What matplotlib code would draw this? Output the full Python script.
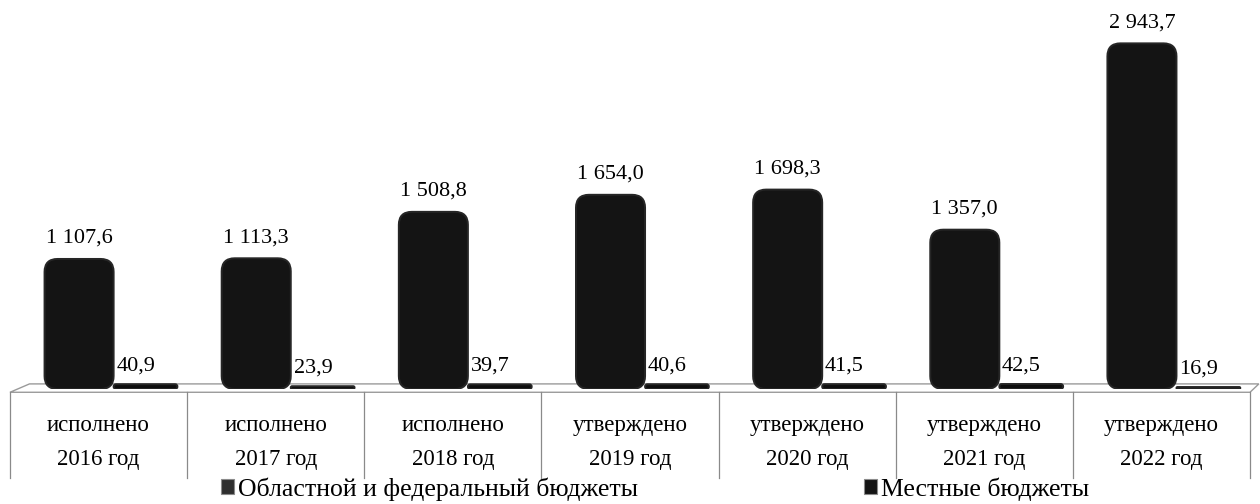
import numpy as np
import matplotlib.pyplot as plt
from matplotlib.patches import FancyBboxPatch, Patch, Polygon

plt.rcParams['font.family'] = ['Liberation Serif', 'DejaVu Serif']

# data (млн руб.)
status = ['исполнено', 'исполнено', 'исполнено', 'утверждено',
          'утверждено', 'утверждено', 'утверждено']
years = ['2016 год', '2017 год', '2018 год', '2019 год',
         '2020 год', '2021 год', '2022 год']
regional = [1107.6, 1113.3, 1508.8, 1654.0, 1698.3, 1357.0, 2943.7]
local = [40.9, 23.9, 39.7, 40.6, 41.5, 42.5, 16.9]
series_names = ['Областной и федеральный бюджеты', 'Местные бюджеты']


def fmt(v):
    return f'{v:,.1f}'.replace(',', ' ').replace('.', ',')


fig = plt.figure(figsize=(12.6, 5.04), dpi=100)
ax = fig.add_axes([10 / 1260, 115 / 504, 1240 / 1260, 364 / 504])
ax.set_xlim(-0.5, 6.5)
ax.set_ylim(0, 3100)
ax.axis('off')

x = np.arange(len(years))
bars1 = ax.bar(x - 0.11, regional, width=0.39, color='#141414')
bars2 = ax.bar(x + 0.265, local, width=0.36, color='#0e0e0e')

# rounded tops: rounding given in x units, stretched to y with mutation_aspect
px_x = 7 / 1240
px_y = 3100 / 364
aspect = px_y / px_x
for b in list(bars1) + list(bars2):
    b.set_visible(False)
    h = b.get_height()
    rs = min(13 * px_x, h / aspect / 2)
    p = FancyBboxPatch((b.get_x(), 0), b.get_width(), h,
                       boxstyle=f'round,pad=0,rounding_size={rs}',
                       mutation_aspect=aspect, fc=b.get_facecolor(),
                       ec='#262626', lw=1.4, zorder=3)
    ax.add_patch(p)

for b, v in zip(bars1, regional):
    ax.annotate(fmt(v), (b.get_x() + b.get_width() / 2, v),
                xytext=(0, 8), textcoords='offset points',
                ha='center', va='bottom', fontsize=16)
for b, v in zip(bars2, local):
    ax.annotate(fmt(v), (b.get_x() + b.get_width() / 2, v),
                xytext=(-7, 6), textcoords='offset points',
                ha='center', va='bottom', fontsize=16)

# floor of the 3D plot
tr = ax.get_xaxis_transform()
floor = Polygon([(-0.5, -0.009), (-0.39, 0.014), (6.55, 0.014), (6.5, -0.009)],
                closed=True, fc='none', ec='#9a9a9a', lw=1.0,
                transform=tr, clip_on=False, zorder=1)
ax.add_patch(floor)

# category table under the chart
for xv in np.arange(-0.5, 7.0, 1.0):
    ax.plot([xv, xv], [-0.009, -0.245], color='#8a8a8a', lw=0.9,
            transform=tr, clip_on=False)
for i in x:
    ax.text(i, -0.1, status[i], ha='center', va='center', fontsize=16.5,
            transform=tr)
    ax.text(i, -0.195, years[i], ha='center', va='center', fontsize=16.5,
            transform=tr)

handles = [Patch(fc='#2e2e2e', ec='#8a8a8a', lw=0.8),
           Patch(fc='#141414', ec='#8a8a8a', lw=0.8)]
fig.legend(handles, series_names, loc='center', bbox_to_anchor=(0.52, 0.03),
           ncol=2, frameon=False, fontsize=18.5, handlelength=0.5,
           handleheight=0.5, handletextpad=0.15, columnspacing=8.8)

fig.savefig('out.png', dpi=100)
